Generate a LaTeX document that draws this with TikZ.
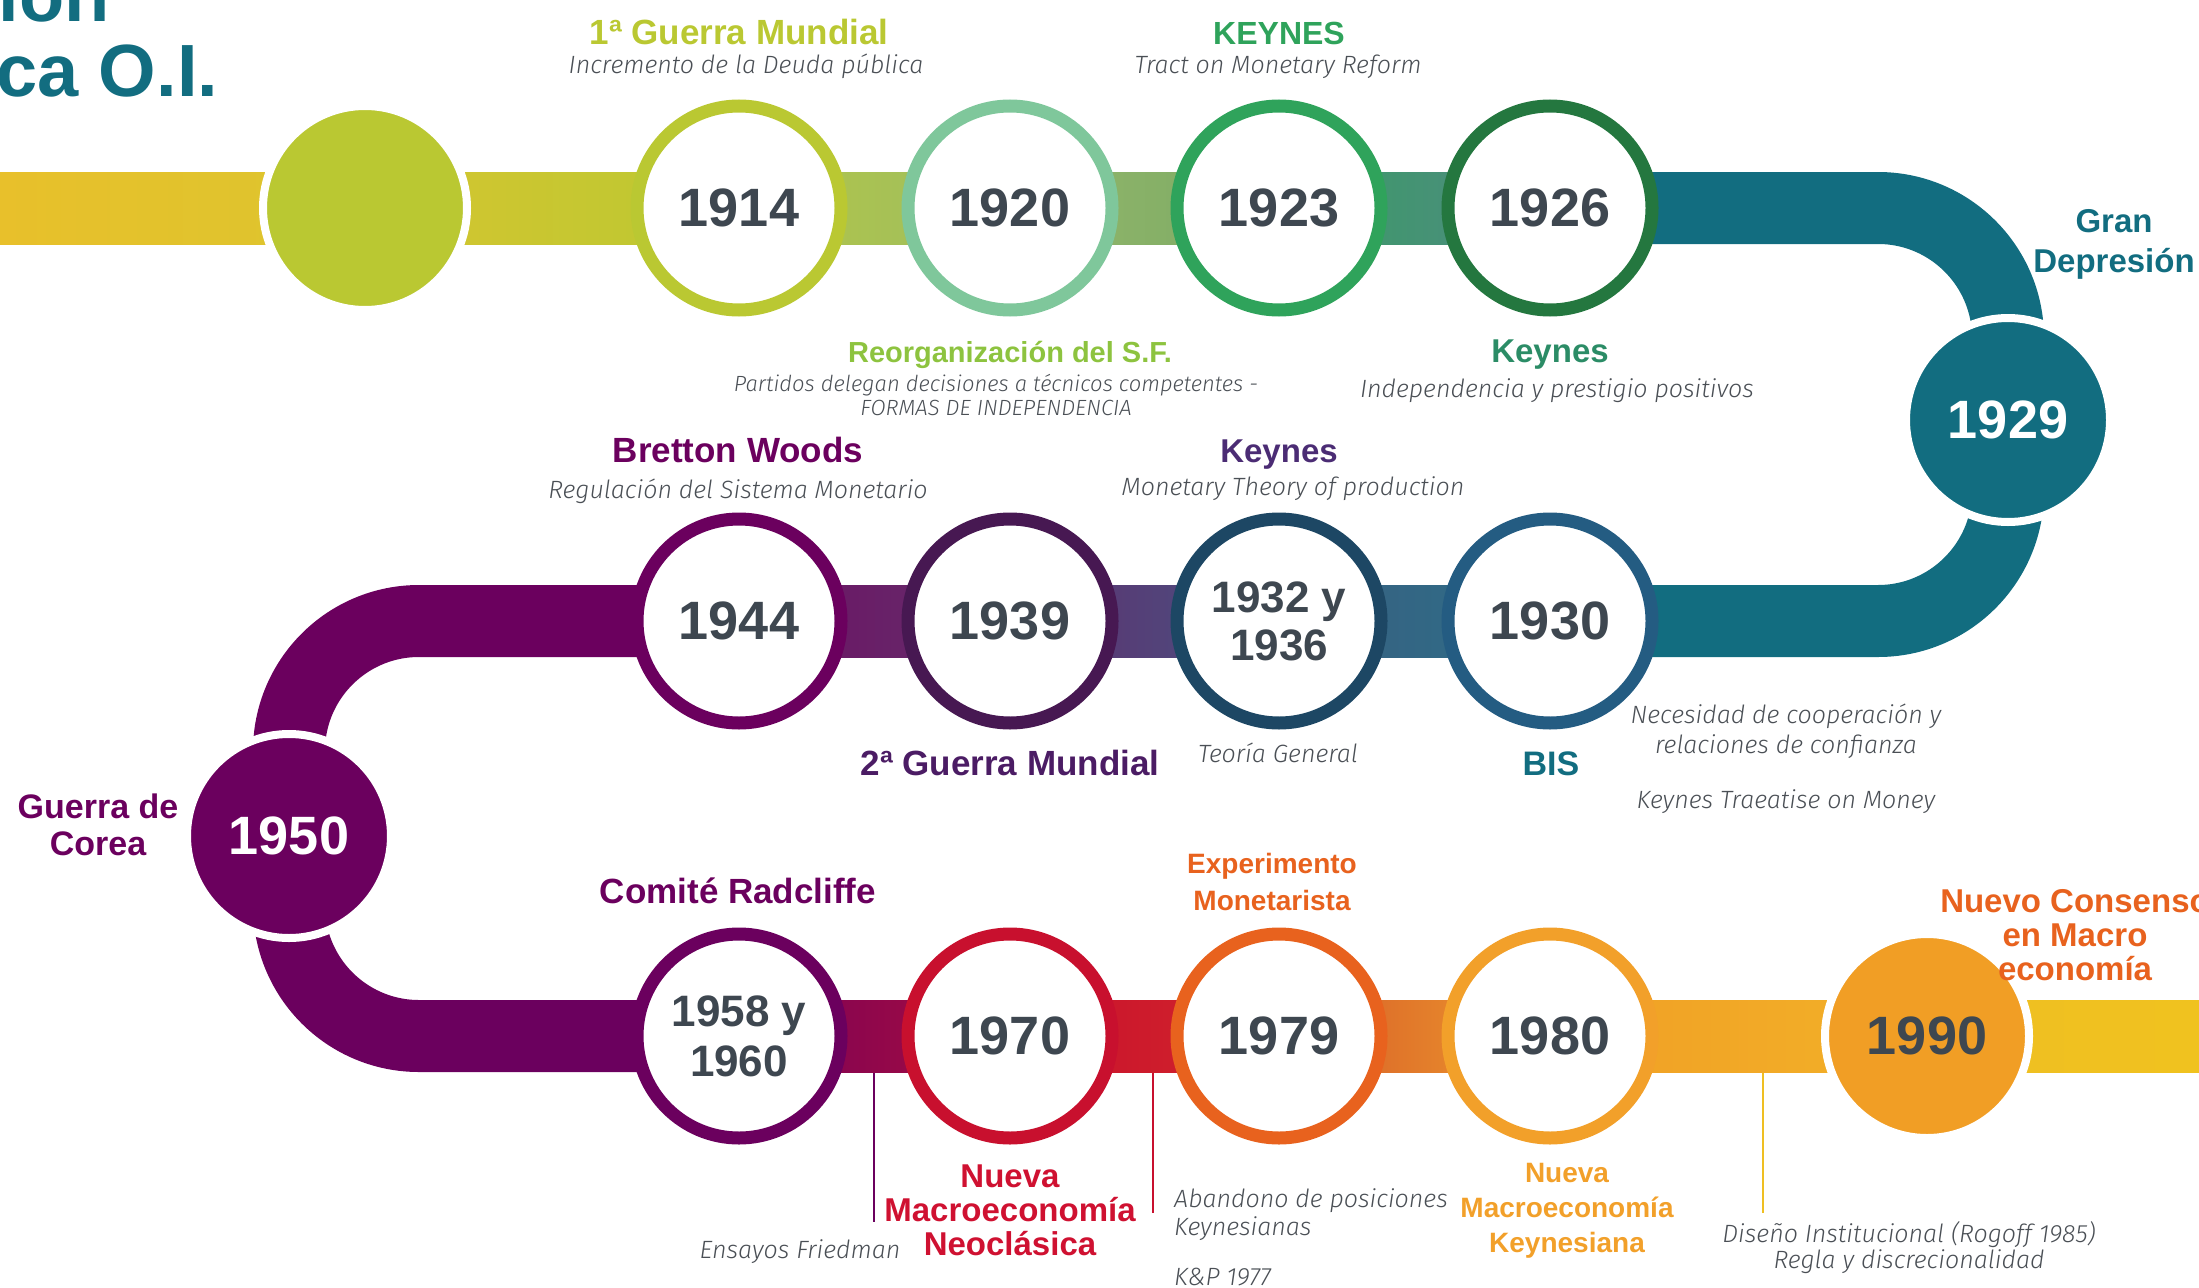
\documentclass[tikz,border=0pt]{standalone}
\usepackage{fontspec}
\setmainfont{Liberation Sans}
\IfFontExistsTF{Fira Sans Light Italic}{\newfontfamily\descfont{Fira Sans Light Italic}}{%
  \IfFontExistsTF{Fira Sans Italic}{\newfontfamily\descfont{Fira Sans Italic}}{\newfontfamily\descfont{Liberation Sans Italic}}}
\usetikzlibrary{positioning,backgrounds}

\definecolor{yeargrey}{HTML}{3E4750}
\definecolor{descgrey}{HTML}{4A4F55}
\definecolor{lime}{HTML}{BAC832}
\definecolor{mint}{HTML}{7FC79B}
\definecolor{midgreen}{HTML}{2FA35B}
\definecolor{darkgreen}{HTML}{24773F}
\definecolor{leaf}{HTML}{8DC33F}
\definecolor{jade}{HTML}{2B8C66}
\definecolor{petrol}{HTML}{126D80}
\definecolor{steel}{HTML}{245C82}
\definecolor{inkblue}{HTML}{1D4764}
\definecolor{indigo}{HTML}{4B2C74}
\definecolor{aubergine}{HTML}{471852}
\definecolor{grape}{HTML}{4B1C64}
\definecolor{plum}{HTML}{6B005E}
\definecolor{crimson}{HTML}{C8102E}
\definecolor{scarlet}{HTML}{CF1131}
\definecolor{tangerine}{HTML}{E8621E}
\definecolor{amber}{HTML}{F2A02A}
\definecolor{marigold}{HTML}{F19E25}
\definecolor{sun}{HTML}{EFBF22}
% band tones
\definecolor{bandA}{HTML}{E8C02B}
\definecolor{bandB}{HTML}{DCC52E}
\definecolor{bandC}{HTML}{D6C52F}
\definecolor{bandD}{HTML}{B4C646}
\definecolor{bandE}{HTML}{9CBD62}
\definecolor{bandF}{HTML}{94B76C}
\definecolor{bandG}{HTML}{7BAA63}
\definecolor{bandH}{HTML}{3A9C65}
\definecolor{bandI}{HTML}{4F8A82}
\definecolor{bandJ}{HTML}{3A5E80}
\definecolor{bandK}{HTML}{2C6F88}
\definecolor{bandL}{HTML}{5E2F6E}
\definecolor{bandM}{HTML}{4A5282}
\definecolor{bandN}{HTML}{6D0F62}
\definecolor{bandO}{HTML}{64306D}
\definecolor{bandP}{HTML}{7A0058}
\definecolor{bandQ}{HTML}{A80E3E}
\definecolor{bandR}{HTML}{D2262A}
\definecolor{bandS}{HTML}{D6582A}
\definecolor{bandT}{HTML}{EE9D2B}
\definecolor{bandU}{HTML}{F2B228}
\definecolor{bandV}{HTML}{F0C21F}

\begin{document}
\begin{tikzpicture}[x=1pt, y=-1pt,
  ring/.style={circle, draw=#1, line width=13pt, fill=white, minimum size=204pt, inner sep=0pt, text=yeargrey, font=\bfseries\fontsize{54}{54}\selectfont},
  disc/.style={circle, fill=#1, draw=white, line width=8pt, minimum size=204pt, inner sep=0pt, font=\bfseries\fontsize{54}{54}\selectfont},
  head/.style n args={3}{anchor=base, align=center, inner sep=0pt, text=#1, font=\bfseries\fontsize{#2}{#3}\selectfont},
  desc/.style={anchor=base, align=center, inner sep=0pt, text=descgrey, font=\descfont\fontsize{25}{29}\selectfont},
  band/.style={line width=72pt, draw=#1, rounded corners=130pt},
  leader/.style={draw=#1, line width=2pt}]
	\useasboundingbox (0,0) rectangle (2199,1287);
	\clip (0,0) rectangle (2199,1287);

	% title
	\node (title0) at (110,22) [anchor=base east, inner sep=0pt, text=petrol, font=\bfseries\fontsize{74}{80}\selectfont] {ión};
	\node (title) at (-4,97) [anchor=base west, inner sep=0pt, text=petrol, font=\bfseries\fontsize{74}{80}\selectfont] {ca O.I.};

	% first row
	\node (dot0) at (365,208) [disc=lime] {};
	\node (y1914) at (739,208) [ring=lime] {1914};
	\node (y1920) at (1010,208) [ring=mint] {1920};
	\node (y1923) at (1279,208) [ring=midgreen] {1923};
	\node (y1926) at (1550,208) [ring=darkgreen] {1926};
	\node (y1929) at (2008,420) [disc=petrol, text=white] {1929};

	% second row
	\node (y1930) at (1550,621) [ring=steel] {1930};
	\node (y1932) at (1279,621) [ring=inkblue, align=center, font=\bfseries\fontsize{44}{48}\selectfont] {1932 y\\1936};
	\node (y1939) at (1010,621) [ring=aubergine] {1939};
	\node (y1944) at (739,621) [ring=plum] {1944};
	\node (y1950) at (289,836) [disc=plum, text=white] {1950};

	% third row
	\node (y1958) at (739,1036) [ring=plum, align=center, font=\bfseries\fontsize{44}{50}\selectfont] {1958 y\\1960};
	\node (y1970) at (1010,1036) [ring=crimson] {1970};
	\node (y1979) at (1279,1036) [ring=tangerine] {1979};
	\node (y1980) at (1550,1036) [ring=amber] {1980};
	\node (y1990) at (1927,1036) [disc=marigold, text=yeargrey] {1990};

	\begin{scope}[on background layer]
		\coordinate (lend) at (0,208);
		\coordinate (rend) at (2199,1036);
		\shade[left color=bandA, right color=bandB] ([yshift=36pt]lend) rectangle ([yshift=-36pt]dot0.center);
		\shade[left color=bandC, right color=lime] ([yshift=36pt]dot0.center) rectangle ([yshift=-36pt]y1914.center);
		\shade[left color=bandD, right color=bandE] ([yshift=36pt]y1914.center) rectangle ([yshift=-36pt]y1920.center);
		\shade[left color=bandF, right color=bandG] ([yshift=36pt]y1920.center) rectangle ([yshift=-36pt]y1923.center);
		\shade[left color=bandH, right color=bandI] ([yshift=36pt]y1923.center) rectangle ([yshift=-36pt]y1926.center);
		\draw[band=petrol] (y1926.center) -- (y1926.center -| y1929.center) -- (y1930.center -| y1929.center) -- (y1930.center);
		\shade[left color=bandJ, right color=bandK] ([yshift=36pt]y1932.center) rectangle ([yshift=-36pt]y1930.center);
		\shade[left color=bandL, right color=bandM] ([yshift=36pt]y1939.center) rectangle ([yshift=-36pt]y1932.center);
		\shade[left color=bandN, right color=bandO] ([yshift=36pt]y1944.center) rectangle ([yshift=-36pt]y1939.center);
		\draw[band=plum] (y1944.center) -- (y1944.center -| y1950.center) -- (y1958.center -| y1950.center) -- (y1958.center);
		\shade[left color=bandP, right color=bandQ] ([yshift=36pt]y1958.center) rectangle ([yshift=-36pt]y1970.center);
		\shade[left color=crimson, right color=bandR] ([yshift=36pt]y1970.center) rectangle ([yshift=-36pt]y1979.center);
		\shade[left color=bandS, right color=bandT] ([yshift=36pt]y1979.center) rectangle ([yshift=-36pt]y1980.center);
		\shade[left color=marigold, right color=bandU] ([yshift=36pt]y1980.center) rectangle ([yshift=-36pt]y1990.center);
		\shade[left color=sun, right color=bandV] ([yshift=36pt]y1990.center) rectangle ([yshift=-36pt]rend);
	\end{scope}

	% labels, first row
	\node (h1914) at (739,45) [head={lime}{35}{40}] {1ª Guerra Mundial};
	\node (d1914) at (746,74) [desc] {Incremento de la Deuda pública};
	\node (h1923) at (1279,45) [head={midgreen}{32}{38}] {KEYNES};
	\node (d1923) at (1278,74) [desc] {Tract on Monetary Reform};
	\node (h1920) at (1010,362) [head={leaf}{29}{34}] {Reorganización del S.F.};
	\node (d1920) at (996,415) [desc, font=\descfont\fontsize{22}{24}\selectfont] {Partidos delegan decisiones a técnicos competentes -\\FORMAS DE INDEPENDENCIA};
	\node (h1926) at (1550,362) [head={jade}{33}{38}] {Keynes};
	\node (d1926) at (1557,397) [desc] {Independencia y prestigio positivos};
	\node (h1929) at (2114,272) [head={petrol}{33}{40}] {Gran\\Depresión};

	% labels, second row
	\node (h1944) at (738,462) [head={plum}{35}{40}] {Bretton Woods};
	\node (d1944) at (738,498) [desc] {Regulación del Sistema Monetario};
	\node (h1932) at (1279,462) [head={indigo}{33}{38}] {Keynes};
	\node (d1932) at (1293,495) [desc] {Monetary Theory of production};
	\node (h1939) at (1010,775) [head={grape}{35}{40}] {2ª Guerra Mundial};
	\node (d1936) at (1278,762) [desc] {Teoría General};
	\node (h1930) at (1551,775) [head={petrol}{34}{40}] {BIS};
	\node (d1930) at (1786,753) [desc, font=\descfont\fontsize{25}{30}\selectfont] {Necesidad de cooperación y\\relaciones de confianza};
	\node (d1930b) at (1786,808) [desc] {Keynes Traeatise on Money};
	\node (h1950) at (98,855) [head={plum}{34}{37}] {Guerra de\\Corea};

	% labels, third row
	\node (h1958) at (738,903) [head={plum}{35}{40}] {Comité Radcliffe};
	\node (d1958) at (800,1258) [desc] {Ensayos Friedman};
	\node (h1970) at (1010,1255) [head={scarlet}{33}{34}] {Nueva\\Macroeconomía\\Neoclásica};
	\node (h1979) at (1272,910) [head={tangerine}{28}{37}] {Experimento\\Monetarista};
	\node (d1979) at (1174,1285) [desc, anchor=base west, align=left, font=\descfont\fontsize{25}{28}\selectfont] {Abandono de posiciones\\Keynesianas\\[22pt]K\&P 1977};
	\node (h1980) at (1567,1252) [head={amber}{28}{35}] {Nueva\\Macroeconomía\\Keynesiana};
	\node (d1990) at (1909,1268) [desc, font=\descfont\fontsize{25}{26}\selectfont] {Diseño Institucional (Rogoff 1985)\\Regla y discrecionalidad};
	\node (h1990) at (2075,980) [head={tangerine}{33}{34}] {Nuevo Consenso\\en Macro\\economía};

	% leader lines
	\coordinate (fr0) at (874,1073);
	\coordinate (fr1) at (874,1222);
	\coordinate (ab0) at (1153,1073);
	\coordinate (ab1) at (1153,1213);
	\coordinate (di0) at (1763,1073);
	\coordinate (di1) at (1763,1213);
	\draw[leader=plum] (fr0) -- (fr1);
	\draw[leader=crimson] (ab0) -- (ab1);
	\draw[leader=sun] (di0) -- (di1);
\end{tikzpicture}
\end{document}
